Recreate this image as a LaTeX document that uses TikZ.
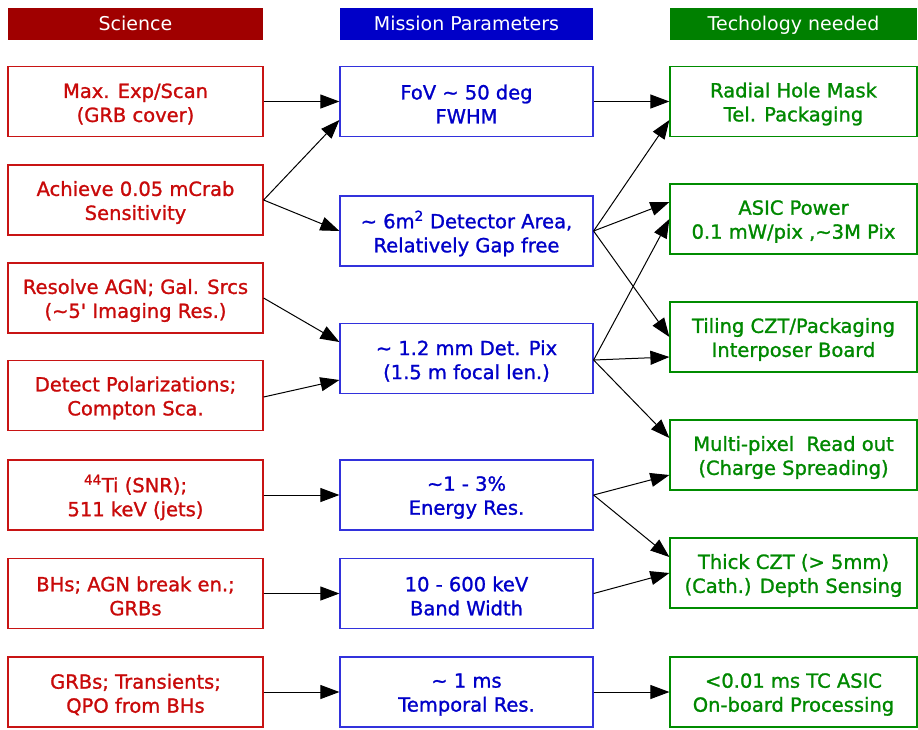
\documentclass[tikz,border=0pt]{standalone}
\usepackage{fontspec}
\setmainfont{DejaVu Sans}
\newfontfamily\boxfont{DejaVu Sans}[BoldFont={DejaVu Sans}, BoldFeatures={FakeBold=1.2}]
\usetikzlibrary{arrows.meta}
\definecolor{hdred}{RGB}{160,0,0}
\definecolor{hdblue}{RGB}{0,0,200}
\definecolor{hdgreen}{RGB}{0,128,0}
\definecolor{brdred}{RGB}{200,20,20}
\definecolor{brdblue}{RGB}{50,50,220}
\definecolor{brdgreen}{RGB}{0,140,0}
\definecolor{txred}{RGB}{200,10,10}
\definecolor{txblue}{RGB}{0,0,200}
\definecolor{txgreen}{RGB}{0,136,0}
\begin{document}
\begin{tikzpicture}[x=1pt,y=-1pt,
  box/.style={rectangle, line width=1.2pt, inner sep=0pt},
  txt/.style={align=center, inner sep=0pt,
    font=\boxfont\bfseries\fontsize{19.5}{24}\selectfont},
  hdr/.style={rectangle, inner sep=0pt, minimum height=32pt, text=white,
    font=\fontsize{19}{22}\selectfont, text depth=2pt},
  sci/.style={box, draw=brdred, minimum width=255pt, minimum height=70pt},
  par/.style={box, draw=brdblue, minimum width=253pt, minimum height=70pt},
  tec/.style={box, draw=brdgreen, minimum width=247pt, minimum height=70pt},
  scit/.style={txt, text=txred},
  part/.style={txt, text=txblue},
  tect/.style={txt, text=txgreen},
  arr/.style={-{Triangle[length=19pt,width=14pt]}, line width=1pt, black}]
\useasboundingbox (0,0) rectangle (918,729);
% headers
\node[hdr, fill=hdred, minimum width=255pt] (h1) at (135.5,24) {Science};
\node[hdr, fill=hdblue, minimum width=253pt] (h2) at (466.5,24) {Mission Parameters};
\node[hdr, fill=hdgreen, minimum width=247pt] (h3) at (793.5,24) {Techology needed};
% science
\node[sci] (s1) at (135.5,101.5) {};
\node[sci] (s2) at (135.5,200) {};
\node[sci] (s3) at (135.5,298) {};
\node[sci] (s4) at (135.5,395.5) {};
\node[sci] (s5) at (135.5,495) {};
\node[sci] (s6) at (135.5,593.5) {};
\node[sci] (s7) at (135.5,692) {};
\node[scit] (s1t) at ([yshift=-2.5pt]s1.center) {Max. Exp/Scan\\(GRB cover)};
\node[scit] (s2t) at ([yshift=-2.5pt]s2.center) {Achieve 0.05 mCrab\\Sensitivity};
\node[scit] (s3t) at ([yshift=-2.5pt]s3.center) {Resolve AGN; Gal. Srcs\\(\textasciitilde5' Imaging Res.)};
\node[scit] (s4t) at ([yshift=-2.5pt]s4.center) {Detect Polarizations;\\Compton Sca.};
\node[scit] (s5t) at ([yshift=-2.5pt]s5.center) {\textsuperscript{44}Ti (SNR);\\511 keV (jets)};
\node[scit] (s6t) at ([yshift=-2.5pt]s6.center) {BHs; AGN break en.;\\GRBs};
\node[scit] (s7t) at ([yshift=-2.5pt]s7.center) {GRBs; Transients;\\QPO from BHs};
% parameters
\node[par] (p1) at (466.5,101.5) {};
\node[par] (p2) at (466.5,231) {};
\node[par] (p3) at (466.5,358.5) {};
\node[par] (p4) at (466.5,495) {};
\node[par] (p5) at (466.5,593.5) {};
\node[par] (p6) at (466.5,692) {};
\node[part] (p1t) at ([yshift=-2.5pt]p1.center) {FoV \textasciitilde\ 50 deg\\FWHM};
\node[part] (p2t) at ([yshift=-2.5pt]p2.center) {\textasciitilde\ 6m\textsuperscript{2} Detector Area,\\Relatively Gap free};
\node[part] (p3t) at ([yshift=-2.5pt]p3.center) {\textasciitilde\ 1.2 mm Det. Pix\\(1.5 m focal len.)};
\node[part] (p4t) at ([yshift=-2.5pt]p4.center) {\textasciitilde1 - 3\%\\Energy Res.};
\node[part] (p5t) at ([yshift=-2.5pt]p5.center) {10 - 600 keV\\Band Width};
\node[part] (p6t) at ([yshift=-2.5pt]p6.center) {\textasciitilde\ 1 ms\\Temporal Res.};
% technology
\node[tec] (t1) at (793.5,101.5) {};
\node[tec] (t2) at (793.5,219) {};
\node[tec] (t3) at (793.5,337) {};
\node[tec] (t4) at (793.5,455) {};
\node[tec] (t5) at (793.5,573) {};
\node[tec] (t6) at (793.5,692) {};
\node[tect] (t1t) at ([yshift=-2.5pt]t1.center) {Radial Hole Mask\\Tel. Packaging};
\node[tect] (t2t) at ([yshift=-2.5pt]t2.center) {ASIC Power\\0.1 mW/pix ,\textasciitilde3M Pix};
\node[tect] (t3t) at ([yshift=-2.5pt]t3.center) {Tiling CZT/Packaging\\Interposer Board};
\node[tect] (t4t) at ([yshift=-2.5pt]t4.center) {Multi-pixel\ \ Read out\\(Charge Spreading)};
\node[tect] (t5t) at ([yshift=-2.5pt]t5.center) {Thick CZT (> 5mm)\\(Cath.) Depth Sensing};
\node[tect] (t6t) at ([yshift=-2.5pt]t6.center) {<0.01 ms TC ASIC\\On-board Processing};
% science -> parameters
\draw[arr] (s1.east) -- (p1.west);
\draw[arr] (s2.east) -- ([yshift=-18.5pt]p1.west);
\draw[arr] (s2.east) -- (p2.west);
\draw[arr] (s3.east) -- ([yshift=16.5pt]p3.west);
\draw[arr] ([yshift=-1.5pt]s4.east) -- ([yshift=-21.5pt]p3.west);
\draw[arr] (s5.east) -- (p4.west);
\draw[arr] (s6.east) -- (p5.west);
\draw[arr] (s7.east) -- (p6.west);
% parameters -> technology
\draw[arr] (p1.east) -- (t1.west);
\draw[arr] (p2.east) -- ([yshift=-18.5pt]t1.west);
\draw[arr] (p2.east) -- ([yshift=17pt]t2.west);
\draw[arr] (p2.east) -- (t3.west);
\draw[arr] ([yshift=-1.5pt]p3.east) -- (t2.west);
\draw[arr] ([yshift=-1.5pt]p3.east) -- ([yshift=-20pt]t3.west);
\draw[arr] ([yshift=-1.5pt]p3.east) -- ([yshift=17pt]t4.west);
\draw[arr] (p4.east) -- ([yshift=-20pt]t4.west);
\draw[arr] (p4.east) -- ([yshift=16pt]t5.west);
\draw[arr] (p5.east) -- (t5.west);
\draw[arr] (p6.east) -- (t6.west);
\end{tikzpicture}
\end{document}
